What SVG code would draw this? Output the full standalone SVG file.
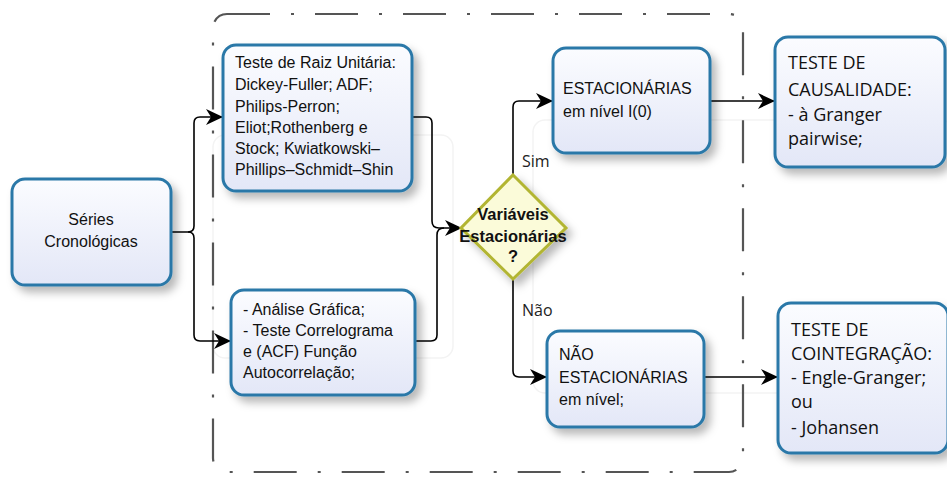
<svg xmlns="http://www.w3.org/2000/svg" width="947" height="481" viewBox="0 0 947 481">
  <defs>
    <linearGradient id="boxFill" x1="0" y1="0" x2="0" y2="1">
      <stop offset="0" stop-color="#fbfcff"/>
      <stop offset="1" stop-color="#e3e7f7"/>
    </linearGradient>
    <filter id="shadow" x="-20%" y="-20%" width="150%" height="150%">
      <feDropShadow dx="5" dy="6" stdDeviation="4" flood-color="#000" flood-opacity="0.28"/>
    </filter>
    <marker id="arrow" markerUnits="userSpaceOnUse" markerWidth="18" markerHeight="16" viewBox="0 0 18 16" refX="17" refY="8" orient="auto">
      <path d="M0,0 L17,8 L0,16 L5,8 Z" fill="#000"/>
    </marker>
  </defs>
  <style>
    .box { fill: url(#boxFill); stroke: #2b78a8; stroke-width: 3; filter: url(#shadow); }
    .dia { fill: #fbfbd9; stroke: #b2b532; stroke-width: 3; filter: url(#shadow); }
    .conn { fill: none; stroke: #000; stroke-width: 1.6; }
    .arr { marker-end: url(#arrow); }
    .ghost { fill: none; stroke: #f3f3f3; stroke-width: 1.5; }
    .frame { fill: none; stroke: #555; stroke-width: 2.2; stroke-dasharray: 43 21 3 21; }
    .t { font-family: "Liberation Sans", Arial, sans-serif; font-size: 16px; fill: #111; }
    .h { font-family: "Open Sans", "Noto Sans", sans-serif; font-size: 18px; fill: #111; }
    .b { font-family: "Liberation Sans", Arial, sans-serif; font-size: 16.5px; font-weight: bold; fill: #111; text-anchor: middle; }
    .lbl { font-family: "Open Sans", "Noto Sans", sans-serif; font-size: 16px; fill: #222; }
  </style>

  <!-- faint background lanes -->
  <rect class="ghost" x="213" y="135" width="240" height="223" rx="12"/>
  <rect class="ghost" x="533" y="120" width="420" height="273" rx="12"/>

  <!-- dash-dot container -->
  <rect class="frame" x="213" y="14" width="530" height="458" rx="14"/>

  <g id="connectors">
    <path class="conn arr" d="M171,232 H188 Q194,232 194,226 V123 Q194,117 200,117 H223"/>
    <path class="conn arr" d="M188,232 Q194,232 194,238 V335 Q194,341 200,341 H231"/>
    <path class="conn arr" d="M412,117 H426 Q432,117 432,123 V221 Q432,228 439,228 H462"/>
    <path class="conn" d="M415,341 H431 Q437,341 437,335 V235 Q437,228 444,228"/>
    <path class="conn arr" d="M513,175 V107 Q513,101 519,101 H553"/>
    <path class="conn arr" d="M710,101 H775"/>
    <path class="conn arr" d="M513,278 V371 Q513,377 519,377 H547"/>
    <path class="conn arr" d="M704,377 H778"/>
    <text class="lbl" x="522" y="167">Sim</text>
    <text class="lbl" x="522" y="316">Não</text>
  </g>

  <g id="series">
    <rect class="box" x="12" y="179" width="159" height="106" rx="13"/>
    <text class="t" x="91" y="225" text-anchor="middle">Séries</text>
    <text class="t" x="91" y="247" text-anchor="middle">Cronológicas</text>
  </g>

  <g id="raiz-unitaria">
    <rect class="box" x="223" y="45" width="189" height="146" rx="13"/>
    <text class="t" x="235" y="68">Teste de Raiz Unitária:</text>
    <text class="t" x="235" y="90">Dickey-Fuller; ADF;</text>
    <text class="t" x="235" y="112">Philips-Perron;</text>
    <text class="t" x="235" y="133">Eliot;Rothenberg e</text>
    <text class="t" x="235" y="154">Stock;  Kwiatkowski–</text>
    <text class="t" x="235" y="175">Phillips–Schmidt–Shin</text>
  </g>

  <g id="analise-grafica">
    <rect class="box" x="231" y="290" width="184" height="105" rx="13"/>
    <text class="t" x="243" y="315">- Análise Gráfica;</text>
    <text class="t" x="243" y="336">- Teste Correlograma</text>
    <text class="t" x="243" y="357">e (ACF) Função</text>
    <text class="t" x="243" y="378">Autocorrelação;</text>
  </g>

  <g id="decisao">
    <polygon class="dia" points="513,175 566,228 513,279 461,228"/>
    <text class="b" x="513" y="220">Variáveis</text>
    <text class="b" x="513" y="242">Estacionárias</text>
    <text class="b" x="513" y="262">?</text>
  </g>

  <g id="estacionarias">
    <rect class="box" x="553" y="48" width="157" height="105" rx="13"/>
    <text class="t" x="563" y="94">ESTACIONÁRIAS</text>
    <text class="t" x="563" y="117">em nível I(0)</text>
  </g>

  <g id="nao-estacionarias">
    <rect class="box" x="547" y="331" width="157" height="96" rx="13"/>
    <text class="t" x="559" y="360">NÃO</text>
    <text class="t" x="559" y="383">ESTACIONÁRIAS</text>
    <text class="t" x="559" y="405">em nível;</text>
  </g>

  <g id="causalidade">
    <rect class="box" x="775" y="37" width="170" height="130" rx="13"/>
    <text class="h" x="788" y="69">TESTE DE</text>
    <text class="h" x="788" y="96">CAUSALIDADE:</text>
    <text class="h" x="788" y="121">- à Granger</text>
    <text class="h" x="788" y="145">pairwise;</text>
  </g>

  <g id="cointegracao">
    <rect class="box" x="778" y="303" width="170" height="150" rx="13"/>
    <text class="h" x="791" y="336">TESTE DE</text>
    <text class="h" x="791" y="360">COINTEGRAÇÃO:</text>
    <text class="h" x="791" y="384">- Engle-Granger;</text>
    <text class="h" x="791" y="408">ou</text>
    <text class="h" x="791" y="434">- Johansen</text>
  </g>
</svg>
